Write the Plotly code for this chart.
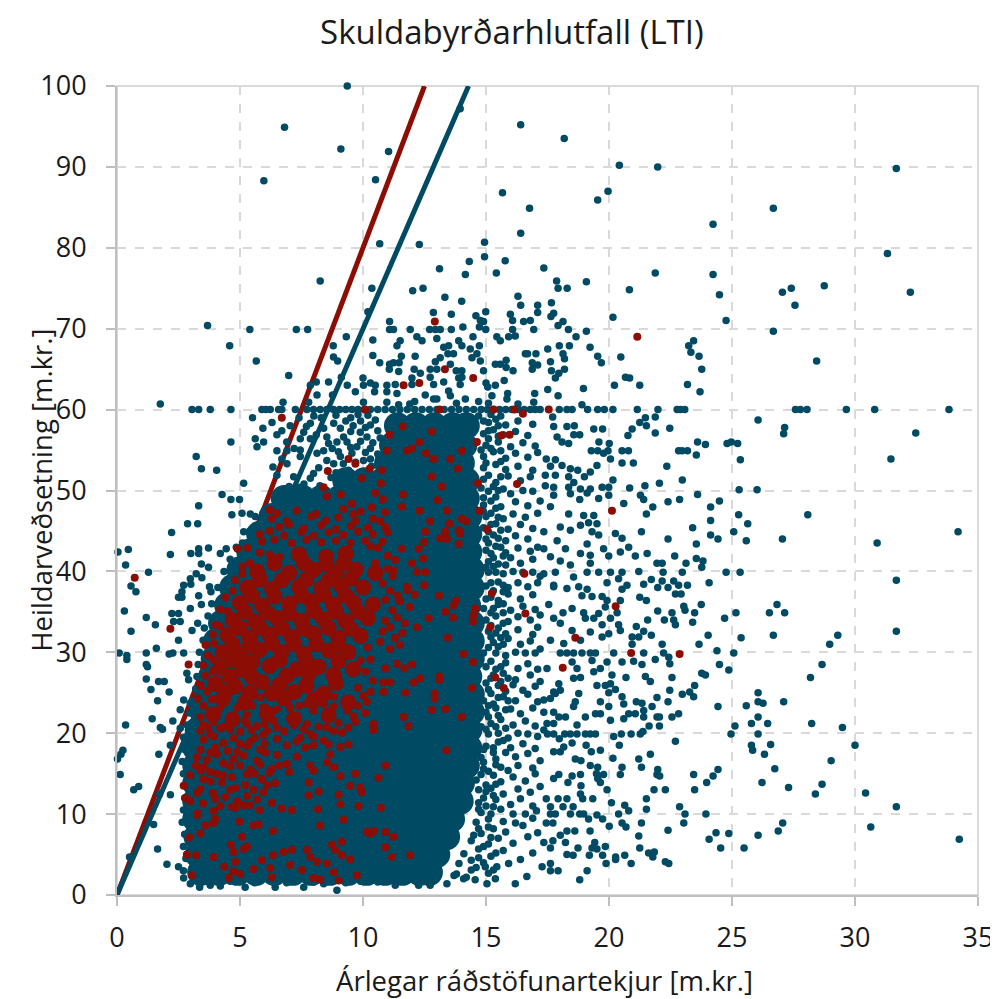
import plotly.graph_objects as go

BLUE = "#004a63"
RED = "#8c0d04"

title = "Skuldabyrðarhlutfall (LTI)"
x_title = "Árlegar ráðstöfunartekjur [m.kr.]"
y_title = "Heildarveðsetning [m.kr.]"

lti7_x = [0, 14.29]
lti7_y = [0, 100]
lti8_x = [0, 12.5]
lti8_y = [0, 100]

# Individually readable points: upper region
blue_upper = [(9.36,100),(6.81,94.9),(13.95,97.2),(16.41,95.2),(9.1,92.2),(11.04,91.9),(10.51,88.4),(5.97,88.3),(15.67,86.8),(16.77,84.9),(16.41,81.8),(10.68,80.5),(12.29,80.4),(14.94,80.7),(14.94,78.9),(14.32,78.3),(15.78,78.4),(13.11,77.4),(14.16,76.7),(15.42,76.9),(8.26,75.9),(10.36,75),(12.02,74.7),(12.44,75),(13.33,73.9),(14.01,73.4),(16.3,74),(16.41,72.9),(10.2,72.1),(12.86,72),(13.59,71.8),(14.99,72.1),(15.99,71.8),(17.1,72.9),(17.1,72),(14.59,71.6),(14.77,71),(14.9,70.9),(14.73,70.2),(14.99,69.9),(16.08,71),(16.53,70.9),(16.8,71),(16.08,69.9),(16.94,69.9),(11.08,70.9),(3.68,70.4),(5.4,69.9),(7.29,69.9),(7.75,69.9),(11.08,69.9),(11.24,69.9),(11.92,69.9),(12.71,69.9),(12.94,69.9),(13.14,69.9),(13.59,69.9),(14.06,70.2),(4.58,67.9),(9.32,69),(10.4,68.6),(8.79,67.9),(8.8,66.5),(8.97,66),(5.66,66),(12.19,69),(12.4,68.5),(11.51,68.5),(11.38,67.9),(13,68.8),(13.89,68.5),(14.47,69),(14.02,67.9),(14.36,67.5),(14.73,67.9),(13.28,67.7),(13.48,67.9),(13.45,66.9),(13.68,66.9),(14.63,66.9),(15.44,69),(15.58,68.5),(15.92,69),(16.19,69.1),(10.4,66.7),(10.68,65.8),(11.08,65.6),(11.24,65.8),(11.56,66.6),(11.47,65.8),(12.12,66.6),(13.14,66.4),(12.94,65.9),(13.55,65.6),(14.43,66.4),(14.77,66),(15.38,65.6),(15.58,65.6),(15.82,66.1),(16.6,66.9),(16.69,66.9),(17.03,66.9),(16.88,65.8),(16.88,65),(17.1,65.5),(11.07,65),(11.45,64.7),(12.08,65),(12.33,64.5),(12.73,65),(13,65),(13.79,64.8),(14.02,64.8),(14.9,64.8),(15.82,65.2),(16.1,64.8),(15.74,63.6),(6.98,64.2),(9.12,64),(10,63.9),(11.99,63.9),(12.73,64),(13.89,63.9),(14.02,64),(8.1,63.4),(8.6,63.4),(7.86,63),(9.36,63),(10.02,63),(10.3,63.3),(10.5,63),(10.97,63),(11.31,63.1),(11.99,63.1),(12.87,63.1),(13.28,63.4),(13.95,63.1),(15,63.3),(15.38,63),(15.07,62.8),(8.13,61.8),(8.76,61.8),(9.69,62.2),(10.47,62.2),(10.97,62.2),(11.38,62),(12.53,61.8),(13.48,62.3),(13.55,61.7),(15.24,61.7),(15.88,62),(16.98,62),(1.76,60.7),(6.75,60.9),(7.79,60.9),(10.02,60.9),(10.97,60.9),(11.45,60.6),(12.87,61.3),(13,61.3),(14.16,61.3),(14.7,61),(15.85,61.3),(16.94,60.9),(12.1,61),(13.8,60.8),(11.9,60.7),(15.1,60.8),(16.3,60.7),
(18.18,93.5),(20.42,90.2),(21.98,90),(31.68,89.8),(19.96,87),(19.54,85.9),(26.68,84.9),(24.23,82.9),(31.32,79.3),(21.88,76.9),(24.23,76.7),(19.08,75.8),(20.83,74.8),(24.49,74.2),(27.05,74.5),(27.41,75),(28.75,75.3),(32.25,74.5),(27.56,72.9),(17.35,77.5),(17.87,75.9),(17.93,75),(18.3,75),(17.66,73.2),(17.75,71.9),(17.64,71.5),(20.16,71.4),(24.76,71),(18.13,70.9),(17.93,70.4),(18.35,69.9),(19.08,69.7),(26.68,69.7),(18.66,69),(23.44,68.5),(23.24,67.9),(23.33,67.1),(23.66,66.6),(23.77,65),(23.19,63.1),(23.7,62.2),(28.44,66),(20.48,66.5),(19.54,66.6),(19.69,65.8),(19.23,67.7),(18.39,67.9),(17.98,67.9),(17.51,67.5),(18.13,66.9),(18.19,66.3),(17.62,65.9),(18.19,65),(17.96,64.5),(17.82,63.9),(17.66,64.8),(20.67,64),(20.84,63.9),(20.22,63),(21.25,63),(18.96,62.6),(17.51,62.5),(17.93,61.7),(18.9,60.6),(26.06,58.7),(27.14,57.8),(27.1,57),(32.47,57.1),(31.46,53.9),(25.34,53.8),(21.88,59.1),(21.48,59),(21.25,58.4),(21.52,58),(22.47,57.7),(21.88,57.1),(20.94,57.6),(20.77,56.8),(23.6,56),(23.92,55.7),(24.8,55.8),(24.97,56),(25.23,55.8),(22.83,54.9),(22.97,54.9),(23.19,54.9),(23.55,54.4),(20.53,54.9),(20.79,54.9),(20.53,53.4),(20.99,53.4),(22.35,53),(22.98,51.3),(22.05,50.9),(21.46,50.6),(20.84,50.3),(25.29,50.1),(26.02,50.1),(20.16,51.3),(20.06,53.9),(20.01,55.8),(19.59,56),(19.28,54.9),(19.54,54.9),(19.78,54.6),(19.96,54.9),(19.38,57.6),(19.74,57.6),(18.59,58),(18.29,57.9),(17.75,57.9),(18.57,56.9),(18.81,56.9),(17.89,56.6),(18.09,56),(18.36,55.8),(17.71,59.1),(17.45,53.9),(17.82,53.8),(18.09,53.1),(17.62,53),(19.51,53.1),(18.43,52.7),(18.73,52.5),(19.24,52.3),(19,51.7),(17.82,51.9),(17.41,51.9),(18.36,51.7),(18.57,51),(19.72,50.4),(19.99,50.4),(19.24,50.2),(18.84,50.2),(18.36,50.4),(17.75,50.4),(17.41,50.6),
(5.51,59),(6.3,58.4),(5.93,57.7),(6.5,56.9),(6.7,57.4),(5.62,56.4),(5.96,56),(4.63,56),(5.69,55.4),(3.22,54.2),(3.43,52.7),(4.05,52.5),(5.15,50.9),(6.5,54.9),(6.91,54.9),(6.34,52.9),(6.91,53.3),(6.5,51.9),(7.04,58),(7.59,57.2),(7.86,58.3),(7.45,56.4),(7.45,55),(7.45,54.2),(7.86,56.4),(8.13,54.6),(7.99,52.1),(7.18,51.7),(7.38,50.4),(7.86,51.5),(8.53,56.6),(8.81,58.3),(9.08,57.7),(9.21,56.6),(9.35,56),(8.94,56),(9.89,57.2),(10.16,56.6),(9.75,55.4),(10.02,53.7),(10.3,55.2),(9.41,52.5),(8.81,53.3),(9.08,54.2),(8.53,53.7),(9.08,50.9),(9.62,50.9),(8.3,59),(8.75,55.2),(9.55,54.6),(9.9,58.6),(10.3,58.1),(9.5,59),(10.35,53),(8.25,50.6),(8.7,51.6),(9.95,52.3)]

# Individually readable points: the row at 60 m.kr.
row60_y = 60
row60_x = [3.05,3.32,3.79,4.63,5.89,6.05,6.23,6.57,6.7,7.25,7.72,7.99,8.26,8.53,8.8,9.05,9.3,9.55,9.8,10.05,10.3,10.6,10.9,11.2,11.5,11.8,12.1,12.4,12.7,13,13.3,13.6,13.9,14.2,14.5,14.8,15.05,15.3,15.55,15.8,16.05,16.3,16.55,16.8,17.0,17.2,17.98,18.29,18.5,19.13,19.54,19.81,20.16,21.15,21.99,22.77,22.9,23.08,27.58,27.78,28.05,29.65,30.8,33.82]

# Individually readable points: lower right
blue_lower_right = [(18.81,48.9),(19.99,49.4),(20.6,48.4),(21.28,49.4),(21.41,48.9),(21.78,47.96),(21.52,47.1),(22.4,48.6),(22.87,48.9),(23.6,49.5),(24.13,47.96),(24.49,48.7),(24.13,46.3),(23.4,45.4),(25.27,47),(25.64,45.9),(25.07,44.9),(24.13,44.5),(24.43,44),(25.58,43.8),(27.05,44),(28.08,47),(30.9,43.5),(34.19,44.9),(21.32,44.9),(22.4,44),(23.55,43.4),(22.67,41.9),(23.55,41.6),(23.82,41.3),(23.13,41),(23.77,40.5),(21.95,41),(22.16,41),(24.76,39.9),(25.33,39.9),(22.98,39.9),(22.2,39.9),(21.21,40),(31.68,38.9),(24.07,38.6),(23.19,38.3),(22.83,38.3),(22.63,38.8),(22.16,38.8),(21.72,39),(21.41,38.4),(21.98,38),(22.4,38),(20.73,38.3),(20.53,37.8),(22.7,37.2),(22.93,37.2),(21.25,36.8),(21.52,36.4),(23.75,35.9),(23.04,35.7),(23.09,35.2),(23.48,34.9),(21.98,35.1),(22.56,34.9),(25.16,34.9),(24.7,34.2),(26.52,34.9),(26.83,35.9),(27.14,34.9),(22.25,34),(22.63,34),(22.7,33.4),(23.4,33.7),(21.57,34),(21.11,33.2),(31.68,32.6),(26.68,32.1),(29.3,32.1),(25.37,31.8),(24.03,32.1),(21.72,32.1),(21.41,32.6),(21.21,31.9),(20.94,31.9),(20.94,31),(22.16,31),(23.66,31),(28.97,31),(24.39,30.2),(25.07,29.9),(28.66,28.5),(24.49,28.5),(24.87,27.8),(28.19,26.9),(23.77,27.4),(23.92,27.2),(22.56,26.9),(21.48,27),(21.68,26.4),(20.69,26.9),(23.48,25.9),(22.47,25.3),(22.98,24.8),(23.28,25.1),(23.44,24.5),(21.95,24.4),(22.4,23.9),(21.11,23.9),(26.06,25),(26.06,23.9),(26.26,23.7),(27.1,23.9),(25.58,23.4),(24.43,23.3),(22.83,22.4),(22.56,22),(22.05,20.9),(22.05,22),(21.63,20.9),(26.06,22),(25.79,21.2),(26.45,21.2),(25.12,20.9),(24.96,19.9),(26.06,19.9),(28.24,21.2),(29.49,20.7),(22.7,19),(26.57,18.6),(25.79,18.5),(25.84,17.9),(26.32,17.4),(30,18.5),(21.68,17.4),(21.21,16.8),(21.32,15.8),(21.98,15.5),(21.95,14.9),(22.06,14.7),(23.44,14.9),(24.43,15.5),(24.23,14.7),(23.97,13.9),(26.74,15.6),(29.03,16.6),(26.22,13.9),(28.66,13.7),(27.3,13.3),(28.39,12.5),(30.43,12.6),(23.48,13),(22.29,13),(21.83,13),(21.52,11.9),(21.52,10.6),(22.87,10.9),(23.09,10),(23.94,10),(31.68,10.9),(23.04,8.9),(21.32,8.9),(27.06,8.9),(26.88,7.9),(22.4,8),(24.35,7.7),(24.87,7.6),(24.07,6.9),(26.06,7.4),(30.64,8.4),(34.24,6.9),(24.54,5.8),(25.49,5.8),(21.21,7.3),(21.25,5.8),(21.61,5.2),(21.84,5.3),(21.78,4.7),(22.29,4.1),(22.43,3.9),(20.9,3.9),(20.64,4.9),(20.27,4.7),(20.27,4.4),(19.88,3.9),(19.74,4.9),(19.85,6),(19.42,6.5),(19.31,5.8),(19.51,5.7),(19.2,4.9),(19.11,3),(18.81,1.9),(17.93,3),(17.62,3),(17.62,3.9),(17.28,3.5),(18.29,5),(18.54,4.9),(18.74,5.8),(18.23,6.5),(18.29,7.9),(18.61,7.9),(19.23,7.9),(18.02,7.4),(17.72,6.7),(17.62,5.8),(17.35,6.5),(20.01,8.5),(20.53,8.9),(20.69,8.4),(19.74,9.4),(19.51,9.9),(19.17,9.4),(18.97,10),(18.81,10),(18.43,10),(17.82,10),(17.62,10),(17.72,8.9),(17.45,8.9),(20.39,10),(20.8,10.4),(20.64,11.1),(20.1,11.4),(19.34,11.9),(18.93,11.9),(18.84,12.5),(18.86,13.5),(19.92,13),(18.54,10.9),(18.13,10.9),(18.29,11.9),(17.93,11.9),(17.62,10.9),(17.45,11.9),
(18.43,19.9),(18.7,19.9),(19.04,19.9),(19.24,19.9),(19.45,19.9),(18.2,19.9),(17.75,19.9),(17.5,19.9),(20.19,19.6),(20.5,19.9),(20.9,19.9),(21.27,19.9),(21.38,20.2),(20.42,18.5),(20.16,16.9),(20.53,15.8),(20.46,14.9),(19.07,18.5),(19.28,17.7),(19.65,17.9),(18.63,16.8),(18.86,16.6),(19.24,16),(19.54,15.8),(19.49,15),(19.78,14.9),(19.54,14.4),(19.65,13.9),(18.84,14.9),(18.5,14.7),(18.33,13.9),(17.96,14.9),(17.75,14.4),(18.02,17.7),(17.75,17.7),(18.5,18.8),(18.16,18.3),(17.98,19.3),(18.7,21),(18.23,22),(17.96,22),(17.75,21.2),(17.48,21.2),(17.35,20.4),(19.45,22.4),(19.04,22),(19.65,22.4),(19.99,23.3),(20.06,21.6),(20.6,21.8),(20.8,22.4),(21.07,22.4),(21.34,23.7),(21.41,22.8),(21.41,22),(21.75,23.3),(21.95,22),(18.56,23.3),(18.77,24.9),(19.65,23.9),(17.82,24.9),(17.62,24.3),(18.02,25.3),(18.63,23.9),(17.35,24.1),(17.35,22.6),(17.75,22.6),
(18.02,29.9),(18.29,29.9),(18.56,29.9),(18.9,29.9),(19.24,29.9),(19.45,29.9),(19.31,29),(18.5,28.8),(19.92,28.8),(20.19,29.9),(20.53,28.8),(21,28.9),(21.34,28.5),(21.41,29.9),(21.88,29.1),(22.22,29.9),(22.43,29.4),(22.47,28.6),(17.48,28),(18.7,28),(19.38,27.6),(19.65,28),(20.12,27.2),(18.56,26.8),(18.84,26.9),(17.96,26.1),(17.75,25.1),(19.51,25.9),(19.85,25.9),(20.06,26.1),(20.26,25.4),(20.53,24.5),(19.99,25),(20.6,23.6),
(18.77,38.1),(19.11,37.8),(19.31,36.9),(18.9,37),(19.72,36.9),(19.92,36.4),(20.46,36.4),(18.29,37.9),(17.75,38.1),(17.55,35.9),(18.13,34.9),(18.5,35.4),(18.97,34.9),(19.58,34.8),(19.85,35.6),(20.33,34.9),(19.38,34.2),(20.06,34.2),(18.02,33.6),(17.75,34.2),(19.04,34.2),(18.5,32.7),(19.72,33.4),(20.39,33.4),(20.46,32.7),(19.24,32.5),(19.99,32.3),(18.84,31.5),(18.16,31.1),(17.62,31.5),(19.72,31.9),
(18.97,46.9),(19.38,46.9),(18.84,45.7),(19.17,46),(19.51,45.9),(18.02,45.5),(18.43,45.1),(19.31,44.9),(19.58,44.5),(19.11,43.4),(17.89,43.8),(18.23,42.8),(17.35,44.9),(19.78,42.8),(18.84,42.2),(19.24,42),(19.99,41.9),(20.46,42.4),(20.26,44.7),(20.53,44.1),(20.8,43),(21.07,41.9),(21.55,42.2),(20.06,39.9),(20.53,39.9),(19.58,39.9),(19.11,39.9),(18.43,40.8),(18.02,41.3),(19.24,41),(17.82,39.9),(18.56,39.3),(19.92,38.6),(20.39,39.1),(17.62,41.8),(17.35,42.8),(17.35,39.7),(17.75,38.3),(17.75,49.4),(18.43,49.6),(19.11,49.7),(19.58,49),(17.62,48),(18.36,47.1)]

# Individually readable points: left of the mass and bottom edge
blue_left = [(4.27,49.5),(4.63,48.9),(4.98,48.9),(3.32,48.1),(4.67,47),(5.08,47.2),(5.42,47.1),(5.62,46.8),(2.87,45.9),(3.28,45.9),(2.22,44.8),(5.15,44.9),(0.04,42.4),(0.46,42.7),(2.17,42.1),(3,42.2),(3.32,42.8),(3.32,42.2),(3.72,42.9),(4.2,42.2),(4.44,42.8),(3.43,40.9),(3.72,40.5),(0.35,40.8),(1.28,39.9),(3.22,39.7),(3.45,39.2),(2.98,39.1),(3,38.4),(0.57,38.2),(0.77,37.5),(2.71,38.3),(2.64,37.5),(2.5,36.8),(2.64,36.8),(3.32,37),(3.76,38.1),(3.82,37.5),(2.98,35.4),(3.43,35.9),(0.3,35.1),(2.23,34.8),(2.5,34.8),(2.3,33.8),(2.57,33.8),(1.19,34.3),(1.56,33.4),(3.28,33.6),(0.57,32.6),(3.05,32.7),(2.5,31.5),(1.6,30.5),(0.09,29.9),(0.4,29.6),(0.4,29.1),(1.19,29.9),(2.12,29.8),(2.27,29.9),(2.71,29.9),(1.19,28.5),(1.24,28.2),(2.84,27.4),(2.91,26.6),(1.19,26.7),(1.69,26.4),(1.92,26.4),(1.38,25.4),(2.12,25.1),(1.65,24),(2.71,24.1),(2.57,22.9),(2.98,23.7),(1.43,21.8),(2.27,21.5),(1.76,20.7),(1.85,20.5),(0.35,21),(2.57,20.6),(2.17,18.5),(1.7,17.4),(0.24,17.9),(0.16,17.4),(0.02,16.8),(0.13,14.9),(0.88,13.4),(0.68,13),(1.73,12.5),(2.17,12.4),(1.49,8.7),(1.65,5.7),(0.51,4.7),(2.03,3.8),(2.5,3.5),(2.71,2.1),(2.98,1.4),(3.36,0.95),(3.79,1.2),(4.2,1.1),(5.21,0.95),(6.43,0.95),(7.59,0.95),(8.4,1.4),(8.94,0.6),(11.31,1.2),(12.26,1.2),(12.73,1.2),(13.41,1.4),(14.09,2),(14.56,1.9),(15.04,1.4),(15.38,2),(16.19,1.4),(16.66,2.3),(15.92,3.9),(14.97,3.5),(15.44,3.5),
(2.7,3),(2.8,4.5),(2.7,6),(2.75,7.5),(2.65,9),(2.7,10.5),(2.75,12),(2.8,13.5),(2.7,15),(2.65,16.5),(2.75,18),(2.7,19.5),(2.85,21),(2.95,22.5),(3.1,24),(3.2,25.5),(3.25,27),(3.3,28.5),(3.35,30),(3.5,31.5),(3.55,33),(3.7,34.5),(3.85,36),(4.1,38),(4.35,40),(4.6,41.5),(4.85,43),(5.1,43.5),(5.4,45),(5.85,46),(6.2,47.5),(6.4,49),(3.6,1.7),(4.6,1.7),(5.6,1.5),(6.9,1.5),(8,1.6),(9.3,1.5),(9.9,1.7),(10.6,1.6),(11.7,1.7),(12.5,2),(13,2.2),(13.8,2.6)]

# Loose scatter right of the saturated mass
blue_band = [(13.9,3.9),(14.4,3.1),(15.2,4.8),(15.7,5.5),(16.4,4.4),(16.9,5.2),(14.1,5.1),(14.7,4.6),(14.4,6.7),(14.9,6),(15.5,7),(16.1,6.4),(16.7,7.2),(14.8,7.6),(15.3,8.2),(15.8,7.8),(16.5,8.6),(17.1,7.7),(14.6,9),(15.1,9.4),(15.7,9.1),(16.2,8.9),(16.9,9.5),(14.8,10.2),(15.2,10),(15.6,10.6),(16.1,10),(16.6,10),(17.05,10.4),(14.7,11.4),(15.4,11.8),(16,11.2),(16.4,11.9),(16.9,11),(15,12.8),(15.2,13.2),(15.7,12.5),(16.3,13.1),(16.8,12.7),(17.2,13.4),(14.6,14.2),(15.3,14.8),(15.6,14),(16.1,14.6),(16.6,14.1),(17,15),(14.9,15.6),(15.4,16.1),(15.9,15.4),(16.3,16),(16.9,15.7),(14.8,17),(15.4,16.8),(15.8,17.6),(16.2,17.1),(16.7,17.5),(17.2,16.6),(15,18.4),(15.5,18.9),(16,18.2),(16.5,18.7),(17,18.1),(15.1,19.9),(15.5,20),(15.9,19.4),(16.3,20),(16.7,19.9),(17.1,19.6),(14.8,20.8),(15.2,21.2),(15.6,21.7),(16.1,21),(16.6,21.5),(17,20.9),(15,22.6),(15.5,22.2),(16,23),(16.4,22.4),(16.9,23.1),(14.9,24),(15.3,23.6),(15.7,24.5),(16.2,24),(16.7,24.8),(17.1,23.9),(15.1,25.4),(15.5,25.9),(15.8,25.2),(16.1,26),(16.5,25.3),(17,25.8),(15.2,26.8),(15.7,27.4),(16.2,26.6),(16.8,27.2),(17.2,26.4),(15,28.2),(15.4,27.9),(15.8,28.7),(16.3,28),(16.7,28.6),(17.1,27.9),(14.9,29.9),(15.4,29.9),(15.8,29.6),(16.2,30),(16.6,29.9),(17,29.9),(17.2,30.4),(15.3,31.2),(15.9,31.7),(16.4,31),(16.8,31.4),(15.1,32.6),(15.5,33),(15.8,32.3),(16.3,32.8),(16.9,32.2),(17.1,33.1),(15,34),(15.4,34.5),(15.9,33.8),(16.3,34.4),(16.8,34),(17.2,34.6),(14.9,35.4),(15.5,35.9),(16,35.2),(16.5,35.7),(17,35.3),(15.2,36.8),(15.5,36.4),(15.9,37.2),(16.4,36.6),(16.9,37.1),(15,38.2),(15.5,38.7),(15.9,38),(16.3,38.6),(16.7,38.1),(17.1,38.6),(15.1,39.9),(15.4,39.9),(15.7,39.7),(16.1,40),(16.5,39.9),(16.9,39.9),(17.2,39.4),(15.1,41.2),(15.5,40.9),(16,41.7),(16.4,41),(16.9,41.5),(15,42.6),(15.4,43.1),(15.8,42.3),(16.3,42.9),(16.8,42.5),(17.1,43),(15,44),(15.3,44.5),(15.8,43.8),(16.2,44.4),(16.7,44),(14.9,45.4),(15.4,45.9),(15.9,45.2),(16.4,45.8),(16.9,45.3),(15,46.8),(15.2,47.2),(15.7,46.5),(16.1,47.1),(16.6,46.7),(17.1,47.2),(14.9,48.2),(15.2,48.7),(15.6,48),(16.2,48.6),(16.7,48.1),(17.2,48.7),(15.1,49.9),(15.5,50),(16,49.6),(16.5,50),(16.9,49.9),(14.9,51.4),(15.4,51),(15.9,51.8),(16.4,51.2),(16.8,51.7),(14.9,52.8),(15.4,53.2),(15.8,52.6),(16.3,53),(16.9,52.5),(14.9,54.2),(15.3,54.8),(15.8,54),(16.2,54.6),(16.7,54.1),(17.1,54.7),(15,55.6),(15.5,56),(16,55.4),(16.5,55.9),(17,55.5),(14.9,57),(15.3,57.5),(15.7,56.9),(16.2,57.3),(16.7,56.8),(15.1,58.4),(15.4,58.8),(15.8,58.1),(16.3,58.6),(16.9,58.2)]

# Dense fringe that softens the edges of the saturated mass
blue_fringe = [(13.7,2.4),(14.2,2.2),(14.6,3.4),(15.1,2.7),(15.3,3.1),(14.4,4.3),(14.9,4),(15.4,5.2),(14.7,5.7),(15.1,6.3),(14.5,7.4),(15.2,7.1),(14.7,8.2),(15.1,8.4),(14.7,10.6),(15,11),(15.3,10.9),(14.9,12),(15.3,12.3),(14.7,13),(15,13.6),(15.4,13.7),(14.8,14.9),(15.1,15.3),(15.6,15.8),(14.9,16.4),(15.3,17.6),(14.9,18),(15.3,18.2),(15.7,19.1),(15,20.5),(15.4,20.8),(15.8,20.6),(15.1,22),(15.4,23.1),(15.8,22.9),(15.1,23.4),(15.5,24.4),(15.9,24),(15.2,24.9),(15.6,26.4),(15,26.2),(15.3,27.2),(15.9,26.8),(15.2,28.9),(15.6,28.2),(15.1,30.6),(15.5,30.7),(15.7,31),(15.2,31.9),(15.6,31.8),(15.4,32.4),(15.2,33.3),(15.7,33.6),(15.2,34.9),(15.7,34.9),(15.3,35.4),(15.7,36),(15,36.6),(15.3,37.6),(15.7,37.5),(15.2,38.6),(15.7,38.3),(15,40.5),(15.3,40.6),(15.8,40.8),(15.3,41.7),(15.7,41.9),(15.2,42.2),(15.6,43),(15.1,43.5),(15.5,44.1),(15.1,44.9),(15.6,45.1),(15.2,45.8),(15.5,46.7),(14.9,47.4),(15.4,47.8),(14.9,49.1),(15.4,49.2),(14.8,50.3),(15.3,50.5),(15.7,50.2),(15.1,51.9),(15.6,51.7),(15,53.4),(15.6,53.6),(14.8,55),(15.2,55.2),(15.6,54.9),(15.1,56.4),(15.5,56.7),(15.1,57.4),(15.5,58),(14.9,58.6),(14.7,59.2),(15.2,59.4),(15.6,59.2),
(8.9,59.3),(9.3,58.6),(9.8,59.4),(10.2,59.3),(10.5,58.7),(9.6,58),(10.1,57.8),(10.6,57.4),(8.6,55.8),(9.5,55.3),(9.9,56.1),(10.4,55.9),(10.7,56.5),(10.1,54.7),(10.6,54.5),(9.2,53.3),(9.7,53.5),(10.3,53.9),(9.4,51.8),(10.3,52.1),(10.7,52.6),(10.9,51.7),(8.2,49.9),(8.9,52.2),(8.2,52.8),(7.6,50.8),(7,50.5),(6.8,49.9),(8.4,54.9),(9,54.8),(9.5,57.3),
(7.4,59),(8,59.2),(7.7,57.9),(8.4,57.7),(8.1,56.9),(6.9,56),(7.2,55.2),(6.7,53.9)]

# Saturated mass: a bigger marker stands in for overlapping points there
mass_rows = [
 (2.8,[3.4,4.15,4.9,5.65,6.4,7.15,7.9,8.65,9.4,10.15,10.9,11.6,12.3,12.7]),
 (5,[3.3,4.05,4.8,5.55,6.3,7.05,7.8,8.55,9.3,10.05,10.8,11.55,12.3,13]),
 (7.2,[3.25,4,4.75,5.5,6.25,7,7.75,8.5,9.25,10,10.75,11.5,12.25,13,13.4]),
 (9.4,[3.2,3.95,4.7,5.45,6.2,6.95,7.7,8.45,9.2,9.95,10.7,11.45,12.2,12.95,13.6]),
 (11.6,[3.2,3.95,4.7,5.45,6.2,6.95,7.7,8.45,9.2,9.95,10.7,11.45,12.2,12.95,13.7,13.95]),
 (13.8,[3.2,3.95,4.7,5.45,6.2,6.95,7.7,8.45,9.2,9.95,10.7,11.45,12.2,12.95,13.7,14]),
 (16,[3.2,3.95,4.7,5.45,6.2,6.95,7.7,8.45,9.2,9.95,10.7,11.45,12.2,12.95,13.7,14.2]),
 (18.2,[3.2,3.95,4.7,5.45,6.2,6.95,7.7,8.45,9.2,9.95,10.7,11.45,12.2,12.95,13.7,14.3]),
 (20.4,[3.3,4.05,4.8,5.55,6.3,7.05,7.8,8.55,9.3,10.05,10.8,11.55,12.3,13.05,13.8,14.3]),
 (22.6,[3.5,4.25,5,5.75,6.5,7.25,8,8.75,9.5,10.25,11,11.75,12.5,13.25,14,14.4]),
 (24.8,[3.7,4.45,5.2,5.95,6.7,7.45,8.2,8.95,9.7,10.45,11.2,11.95,12.7,13.45,14.2,14.4]),
 (27,[3.85,4.6,5.35,6.1,6.85,7.6,8.35,9.1,9.85,10.6,11.35,12.1,12.85,13.6,14.3]),
 (29.2,[3.95,4.7,5.45,6.2,6.95,7.7,8.45,9.2,9.95,10.7,11.45,12.2,12.95,13.7,14.4]),
 (31.4,[4.05,4.8,5.55,6.3,7.05,7.8,8.55,9.3,10.05,10.8,11.55,12.3,13.05,13.8,14.4]),
 (33.6,[4.25,5,5.75,6.5,7.25,8,8.75,9.5,10.25,11,11.75,12.5,13.25,14,14.4]),
 (35.8,[4.5,5.25,6,6.75,7.5,8.25,9,9.75,10.5,11.25,12,12.75,13.5,14.25]),
 (38,[4.7,5.45,6.2,6.95,7.7,8.45,9.2,9.95,10.7,11.45,12.2,12.95,13.7,14.4]),
 (40.2,[5,5.75,6.5,7.25,8,8.75,9.5,10.25,11,11.75,12.5,13.25,14,14.4]),
 (42.4,[5.4,6.15,6.9,7.65,8.4,9.15,9.9,10.65,11.4,12.15,12.9,13.65,14.3]),
 (44.6,[5.8,6.55,7.3,8.05,8.8,9.55,10.3,11.05,11.8,12.55,13.3,14.05,14.3]),
 (46.8,[6.3,7.05,7.8,8.55,9.3,10.05,10.8,11.55,12.3,13.05,13.8,14.3]),
 (49,[6.8,7.55,8.3,9.05,9.8,10.55,11.3,12.05,12.8,13.55,14.2]),
 (51.2,[9.3,10.05,10.8,11.55,12.3,13.05,13.8,14.2]),
 (53.4,[11,11.75,12.5,13.25,14]),
 (55.6,[11.2,11.95,12.7,13.45,14.1]),
 (58,[11.4,12.15,12.9,13.65,14.2]),
]

# Red: saturated mass, bigger marker
red_mass = [(3.9,22.3),(4.7,21.7),(6.1,22.4),(7.2,21.8),(8.6,22.2),(4.3,24.2),(5.2,23.8),(6.8,24.3),(8,24.1),(9.4,23.8),(4,26.1),(4.8,25.8),(5.9,26.3),(6.6,26),(7.7,25.9),(8.9,26.2),(4.2,28.1),(5.1,27.8),(6.2,28.3),(7.3,27.9),(8.2,28.2),(9.6,27.9),(4.3,30),(5,29.7),(5.8,30.3),(6.7,30),(7.6,29.8),(8.6,30.2),(9.4,30),(4.5,32.1),(5.4,31.8),(6.2,32.2),(7.1,31.9),(8,32.3),(9,31.8),(9.9,32),(4.7,34),(5.6,33.8),(6.5,34.2),(7.5,33.9),(8.4,34.1),(9.3,33.8),(10.2,34.2),(5,36.1),(5.9,35.8),(7,36),(7.9,36.3),(8.8,35.9),(9.6,36.2),(10.4,35.9),(5.3,38),(6.3,37.8),(7.4,38.1),(8.3,37.9),(9.1,38.2),(10,38),(5.7,40),(7,39.8),(8,40.2),(8.9,39.9),(9.7,40.2),(10.5,39.8),(7.4,42.1),(8.5,41.8),(9.3,42.2),
(4.4,25.1),(5.4,25),(6.3,24.9),(7.2,25.1),(8.4,24.9),(4.6,27),(5.5,26.9),(6.9,27.1),(7.8,27.3),(8.8,27.2),(4.7,29),(5.5,28.8),(6.6,29),(7.7,28.8),(9,28.9),(4.7,31),(5.4,30.8),(6.3,31.1),(7.2,31),(8.1,31),(9,30.9),(5,33),(5.8,33.1),(6.7,33),(7.6,32.9),(8.6,33),(9.5,32.9),(5.2,35),(6.1,34.9),(7,34.8),(8,35.1),(8.9,35),(9.8,35),(5.5,37),(6.4,36.9),(7.5,37),(8.4,37.1),(9.3,37),(5.8,39),(6.7,38.9),(7.7,39),(8.6,38.9),(9.5,39.1),(6.4,41),(7.6,41),(8.5,40.9),(9.2,41)]

# Red points, isolated
red_points = [(12.92,70.9),(21.15,69),(13.33,65),(14.48,63.9),(11.65,63),(12.29,63.3),(10.09,60),(13.11,60),(15.31,60),(16.15,60),(16.5,59.5),(17.55,60),(6.7,59),(11.08,56.9),(11.61,57.9),(12.8,57.3),(12.3,56),(14.63,56),(15.62,56.8),(15.96,56.9),(10.97,54.9),(11.79,54.9),(11.99,55.2),(9.41,53.9),(9.69,53.3),(12.56,54.6),(12.87,53.9),(13.55,53.9),(14.02,54.9),(13.86,52.7),(8.57,52.4),(10.27,52.7),(10.77,52.5),(9.96,51.5),(12.8,51.7),(10.73,50.9),(14.67,50.9),(16.26,50.8),(8.4,50.4),(13.21,50.5),
(20.12,47.5),(20.27,35.7),(18.63,31.8),(20.9,29.9),(22.87,29.8),(18.12,28.1),(0.72,39.2),(2.17,32.9),(2.91,28.5),
(13.09,37),(13.79,36.4),(13.68,35.8),(14.56,35.4),(14.5,34.6),(14.47,33.8),(13.66,34.3),(13.35,35),(12.67,34.2),(12.19,33.1),(13.44,31.8),(15.17,33.1),(15.24,37.3),(16.56,39.7),(16.6,34.8),(14.74,47.5),(15.04,45.2),(14.09,29.8),(14.47,28.8),(15.38,26.9),(15.72,25.6),(14.43,25.6),(13.11,27),(13.11,26.6),(12.91,24.9),(12.91,24.3),(13.35,23),(12.8,22.9),(14.02,22),(11.65,22),(11.85,20.9),(12.33,26.8),(12.06,26.3),(11.72,25),(10.91,28),(11.11,26.3),(10.84,26.3),(10.84,25.1),(11.38,28.6),(11.68,28),(11.99,28.5),
(14.2,46.2),(14.02,46.5),(13.41,47.5),(13.51,45.9),(13.34,44.9),(13.89,45.1),(13.95,44.7),(13.89,43.4),(13.14,44.1),(13.41,44),(12.73,46.2),(12.29,47.5),(12.53,44.9),(12.49,43.6),(12.26,42.8),(12.44,41.6),(11.99,41),(12.19,39.9),(12.53,39.9),(12.49,38.3),(11.79,38.1),(11.24,40.1),(11.31,41.4),(11.58,42.8),(10.81,48.9),(10.36,47.9),(9.55,48.4),(8.53,49.3),(9.1,49.5),(10.5,49.7),(11.58,48),(11.62,49.5),(13.03,48.8)]

# Red points in the loose lower and upper parts of the cloud
red_scatter = [(3.05,2.4),(4.54,2.1),(4.74,2.9),(5.01,2.6),(6.3,2.2),(7.99,2.1),(8.26,1.9),(8.81,2.8),(9.01,1.8),(9.75,2.4),(4.36,3.5),(4.81,4.1),(5.55,3.2),(6.23,3.3),(7.04,3.7),(7.52,3.1),(8.53,3.9),(9.48,4.4),(2.84,5),(3.22,4.9),(3.93,4.7),(4.74,5.3),(5.89,4.3),(6.34,4.9),(7.86,4.7),(8.13,4.1),(8.87,5.6),(9.14,4.9),(11.18,4.7),(11.92,4.9),(4.63,6.2),(5.15,5.7),(5.28,6),(6.77,5.3),(7.11,5.6),(7.72,5.6),(8.74,6.2),(9.14,6.6),(10.91,5.9),(11.24,7.2),(2.95,7.1),(3.39,7.6),(5.08,7.2),(10.3,7.6),(10.91,7.8),(3.59,8.6),(3.93,8.9),(5.55,8.6),(5.76,8.7),(6.34,7.9),(8.26,8.6),(10.16,7.8),(10.43,7.9),(3.25,9.9),(3.99,9.4),(4.98,9.1),(9.21,9.3),(3.28,10.1),(3.93,10.4),(4.67,10.9),(4.81,10.8),(5.15,11.1),(5.8,10.5),(6.7,10.7),(7.11,10.5),(8.17,10.6),(9.08,11.2),(9.82,11),(10.73,10.8),(2.78,12),(2.98,11.6),(3.25,12.6),(3.99,11.9),(5.28,12.2),(5.69,11.8),(5.96,12.7),(7.79,12.3),(8.2,12.8),(9.01,12.4),(9.96,12.7),(2.71,13.5),(3.39,13.1),(4.27,13.9),(4.81,13.2),(5.21,13.6),(5.55,13),(6.1,13.6),(6.43,13.8),(7.79,13.9),(9.48,13.5),(9.89,13.3),(2.98,14.8),(3.52,14.3),(4.06,15),(4.67,14.6),(5.28,14.9),(5.89,14.3),(9.08,14.7),(9.69,15),(10.63,14.5),(3.52,15.8),(3.79,15.2),(4.33,16.3),(5.42,15.5),(5.82,16.1),(6.3,15.6),(6.91,16.2),(7.86,16),(7.99,15.4),(8.53,16.4),(8.81,15.8),(10.91,16),(3.25,17),(3.66,16.7),(4.06,17.4),(4.74,16.8),(5.15,17.2),(5.69,16.6),(6.5,17.3),(7.31,17.1),(8.67,17.4),(3.39,18),(3.99,18.2),(4.88,17.7),(5.28,18.4),(5.82,18),(6.03,17.6),(7.65,18.2),(7.99,18.5),(9.08,18.3),(9.41,18.6),(13.39,17.9),(3.52,19.2),(3.93,19.6),(4.33,18.8),(4.74,19.4),(5.42,19),(6.5,19.3),(7.45,19.4),(8.4,19.1),(3.39,20.3),(3.79,19.9),(4.2,20.6),(5.01,20.2),(5.48,20.4),(5.96,19.8),(6.5,20.7),(7.59,20.5),(7.86,19.9),(8.81,20.3),(9.14,20.1),(10.43,20.4),(3.52,21),(3.93,21.4),(4.33,20.8),(5.28,21.2),(5.69,20.9),(6.37,21.5),(7.72,21.1),(8.53,20.7),(9,21.3),(9.69,21.4),(10.43,21.1),(3.39,22),(3.79,22.7),(4.2,23.2),(5.28,22.3),(5.96,23.2),(7.04,23.1),(7.99,22.8),(8.81,23.3),(9.62,22.1),(10.09,22.5),(3.52,23.4),(3.86,24.2),(5.82,24.4),(6.23,24.8),(7.72,23.6),(8.81,24.5),(9.35,22.8),(10.02,24.6),(3.3,24.3),(3.66,25.2),(9.8,25.6),(10.3,25.1),(10.16,23.9),(10.4,26.5),(10.1,27.6),(9.9,29),(10.3,29.1),(10.2,30.6),(10.7,31.3),(11.1,30.4),(11.5,30.9),(11.3,31.8),(10.8,32.6),(11.1,33.1),(11.6,32.4),(10.9,33.9),(11.4,34.3),(11.7,33.6),(11.2,35.2),(11.9,35.6),(10.9,36.5),(11.5,36.3),(11.4,37),(12.1,37.1),(11.1,37.6),(11.8,37.7),(10.8,38.5),(10.6,39.3),(11.2,39.4),(11,40.3),(10.5,41),(11,41.9),(10.6,42.9),(10.3,43.1),(10.8,43.7),(10.4,44.6),(11,44.8),(10.2,45.4),(10.9,45.5),(10.4,46.5),(10.7,46.2),(9.9,47.4),(10.9,47.3),(5.4,41),(5.1,40.6),(4.9,42.8),(5.3,42.9),(5.8,42.3),(6.4,41.6),(6.2,42.1),(6.6,41.8),(5.9,43.7),(6.4,43.9),(7.1,43.5),(7.7,43.9),(8.3,43.6),(8.9,43.8),(9.5,43.5),(10.1,43.8),(5.8,44.6),(6.2,45),(6.8,44.4),(7.5,44.9),(8,44.4),(8.6,44.8),(9.2,44.5),(9.8,44.9),(6.6,45.5),(7,45.8),(7.6,45.3),(8.3,45.7),(8.9,45.2),(9.5,45.6),(6.3,46.5),(6.9,46.2),(7.9,46.8),(8.5,46.3),(9,46.7),(9.7,46.2),(6.2,47.6),(6.5,47.2),(7.3,47.5),(8.1,47.1),(9.2,47.7),(9.6,47.1),
(3.4,25.9),(3.6,27.1),(3.5,28.4),(3.7,29.6),(3.6,30.9),(3.9,32.2),(4,33.4),(4.2,35.3),(4.4,36.8),(4.8,38.9),(5.1,39.7),(3.9,27.7),(3.9,29.1),(3.95,31.1),(4.2,33.2),(4.5,35.1),(4.7,37.6),
(3.4,15.4),(3.8,14.1),(4.3,14.8),(4.6,15.9),(5,16),(5.6,15),(6.2,15.1),(6.6,16),(7,15.2),(3.2,16),(3.8,17.6),(4.5,17.8),(5,18.7),(5.6,19.4),(6,18.7),(6.9,18.5),(7.3,19),(8,19.6),(8.6,18.6),(3.9,12.6),(4.4,12.1),(4.6,13),(3.5,11.3),(4.2,11),(4.9,11.6),(5.4,11.1),(6.3,11.4),(3.7,20.7),(4.6,20.5),(5.2,21.5),(6,21.2),(6.8,20.2),(7.2,21),(8.2,20.8),(9.4,20.7),(6.5,23),(7.4,23.4),(8.4,23.6),(9.8,23.4),(4.9,23.1),(5.5,23.4),(6.1,20.3)]

def flat_rows(rows):
    xs, ys = [], []
    for row_y, row_xs in rows:
        xs += row_xs
        ys += [row_y] * len(row_xs)
    return xs, ys

blue_all = blue_upper + blue_lower_right + blue_left + blue_band + blue_fringe
bx = [p[0] for p in blue_all] + row60_x
by = [p[1] for p in blue_all] + [row60_y] * len(row60_x)
mass_x, mass_y = flat_rows(mass_rows)
red_all = red_points + red_scatter
rx = [p[0] for p in red_all]
ry = [p[1] for p in red_all]

fig = go.Figure()
fig.add_trace(go.Scatter(x=lti8_x, y=lti8_y, mode="lines", line=dict(color=RED, width=5)))
fig.add_trace(go.Scatter(x=lti7_x, y=lti7_y, mode="lines", line=dict(color=BLUE, width=5)))
fig.add_trace(go.Scatter(x=mass_x, y=mass_y, mode="markers", marker=dict(color=BLUE, size=27, line_width=0)))
fig.add_trace(go.Scatter(x=bx, y=by, mode="markers", marker=dict(color=BLUE, size=7.5, line_width=0), cliponaxis=False))
fig.add_trace(go.Scatter(x=[p[0] for p in red_mass], y=[p[1] for p in red_mass], mode="markers", marker=dict(color=RED, size=16, line_width=0)))
fig.add_trace(go.Scatter(x=rx, y=ry, mode="markers", marker=dict(color=RED, size=8, line_width=0)))

FONT = "Open Sans"
TEXT = "#1a1a1a"
fig.update_xaxes(range=[0, 35], tickvals=list(range(0, 36, 5)), ticklabelstandoff=9, automargin=False)
fig.update_yaxes(range=[0, 100], tickvals=list(range(0, 101, 10)), ticklabelstandoff=14, automargin=False)
for update in (fig.update_xaxes, fig.update_yaxes):
    update(showline=True, linecolor="#bfbfbf", linewidth=2, ticks="outside", ticklen=9, tickwidth=2,
           tickcolor="#bfbfbf", showgrid=True, gridcolor="#d9d9d9", griddash="dash", gridwidth=2,
           zeroline=False, tickfont=dict(family=FONT, size=27, color=TEXT))
fig.update_layout(
    width=990, height=991, autosize=False, showlegend=False,
    paper_bgcolor="white", plot_bgcolor="white",
    margin=dict(l=109, r=20, t=78, b=104),
    title=dict(text=title, x=0.509, xanchor="center", y=0.975, yanchor="middle",
               font=dict(family=FONT, size=33, color=TEXT)),
    annotations=[
        dict(text=x_title, xref="paper", yref="paper", x=0.497, y=-0.106, xanchor="center", yanchor="middle",
             showarrow=False, font=dict(family=FONT, size=27.5, color=TEXT)),
        dict(text=y_title, xref="paper", yref="paper", x=-0.088, y=0.5, xanchor="center", yanchor="middle",
             textangle=-90, showarrow=False, font=dict(family=FONT, size=27.5, color=TEXT)),
    ],
    shapes=[dict(type="rect", xref="paper", yref="paper", x0=0, y0=0, x1=1, y1=1,
                 line=dict(color="#d9d9d9", width=2), layer="below")],
)
fig.write_html("out.html")
